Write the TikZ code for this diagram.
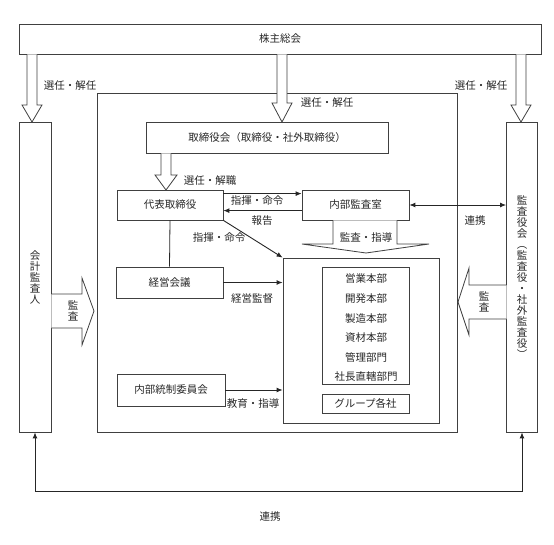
\documentclass[tikz,border=0pt]{standalone}
\usepackage{fontspec}
\setmainfont{Noto Sans CJK JP}
\usetikzlibrary{arrows.meta}
\newcommand\jpf{\fontsize{10.5pt}{12pt}\selectfont}
\newcommand\jpv{\fontsize{10.5pt}{11pt}\selectfont}
\begin{document}
\begin{tikzpicture}[x=1pt,y=-1pt,
  box/.style={draw=black!75, line width=0.8pt, inner sep=0pt, font=\jpf, text=black!85, align=center},
  lbl/.style={inner sep=0pt, font=\jpf, text=black!85},
  con/.style={draw=black!85, line width=0.9pt, -{Latex[length=6pt,width=5pt]}},
  con2/.style={draw=black!85, line width=0.9pt, {Latex[length=6pt,width=5pt]}-{Latex[length=6pt,width=5pt]}},
  ln/.style={draw=black!85, line width=0.8pt},
  blk/.style={draw=black!75, line width=0.8pt, fill=white}]
\useasboundingbox (0,0) rectangle (554,544);

% boxes
\node[box, minimum width=522pt, minimum height=30pt] (kabu) at (280,39) {株主総会};
\node[box, minimum width=32pt, minimum height=310pt, font=\jpv] (kaikei) at (35,277) {会\\計\\監\\査\\人};
\node[box, minimum width=31pt, minimum height=310pt, font=\jpv] (kansa) at (522,277) {監\\査\\役\\会\\︵\\監\\査\\役\\・\\社\\外\\監\\査\\役\\︶};
\node[box, minimum width=360pt, minimum height=339pt] (inner) at (277,262.5) {};
\node[box, minimum width=242pt, minimum height=31pt] (tori) at (267,137.5) {取締役会（取締役・社外取締役）};
\node[box, minimum width=106pt, minimum height=30pt] (daihyo) at (170,205) {代表取締役};
\node[box, minimum width=107pt, minimum height=30pt] (naibu) at (355.5,205) {内部監査室};
\node[box, minimum width=107pt, minimum height=31pt] (keiei) at (169.5,282.5) {経営会議};
\node[box, minimum width=108pt, minimum height=32pt] (touse) at (171,390) {内部統制委員会};
\node[box, minimum width=156pt, minimum height=165pt] (dept) at (361,340.5) {};
\node[box, minimum width=87pt, minimum height=117pt] (list) at (365.5,325.5) {};
\node[lbl, align=center, font=\fontsize{10.5pt}{19.6pt}\selectfont] (items) at (366,328) {営業本部\\開発本部\\製造本部\\資材本部\\管理部門\\社長直轄部門};
\node[box, minimum width=87pt, minimum height=19pt] (group) at (365.5,403.5) {グループ各社};

% block arrows
\draw[blk] (27,54.4) -- (27,105) -- (22,105) -- (32,122) -- (42,105) -- (37,105) -- (37,54.4);
\draw[blk] (516,54.4) -- (516,105) -- (511,105) -- (521,122) -- (531,105) -- (526,105) -- (526,54.4);
\draw[blk] (277,54.4) -- (277,103) -- (272,103) -- (282,122) -- (292,103) -- (287,103) -- (287,54.4);
\draw[blk] (161,153.4) -- (161,175) -- (155,175) -- (166,190) -- (177,175) -- (171,175) -- (171,153.4);
\draw[blk] (333,220.4) -- (333,244) -- (302,244) -- (366,253) -- (429,244) -- (397,244) -- (397,220.4);
\draw[blk] (51.4,294) -- (82,294) -- (82,278) -- (94,311) -- (82,345) -- (82,328) -- (51.4,328);
\draw[blk] (506.6,285) -- (469,285) -- (469,268) -- (458,302) -- (469,335) -- (469,319) -- (506.6,319);

% connectors
\draw[con] ([yshift=-4pt]daihyo.north east) -- ([yshift=-4pt]naibu.north west);
\draw[con] ([yshift=-21pt]naibu.north west) -- ([yshift=-21pt]daihyo.north east);
\draw[con2] (naibu.east) -- (kansa.west |- naibu.east);
\draw[con] (daihyo.south east) -- (dept.north west);
\draw[ln] (daihyo.south) -- (keiei.north);
\draw[con] (keiei.east) -- (dept.west |- keiei.east);
\draw[con] (touse.east) -- (dept.west |- touse.east);
\coordinate (bl) at (35,491);
\coordinate (br) at (522,491);
\draw[con2] (kaikei.south) -- (bl) -- (br) -- (kansa.south);

% labels
\node[lbl] (l1) at (70,86) {選任・解任};
\node[lbl] (l2) at (481,86) {選任・解任};
\node[lbl] (l3) at (327,103) {選任・解任};
\node[lbl] (l4) at (210,181) {選任・解職};
\node[lbl] (l5) at (257,201) {指揮・命令};
\node[lbl] (l6) at (262,221) {報告};
\node[lbl] (l7) at (475,221) {連携};
\node[lbl] (l8) at (366,237) {監査・指導};
\node[lbl] (l9) at (219,238) {指揮・命令};
\node[lbl] (l10) at (252,299) {経営監督};
\node[lbl] (l11) at (253,404) {教育・指導};
\node[lbl, align=center, font=\jpv] (l12) at (73,311) {監\\査};
\node[lbl, align=center, font=\jpv] (l13) at (484,302) {監\\査};
\node[lbl] (l14) at (270,517) {連携};
\end{tikzpicture}
\end{document}
